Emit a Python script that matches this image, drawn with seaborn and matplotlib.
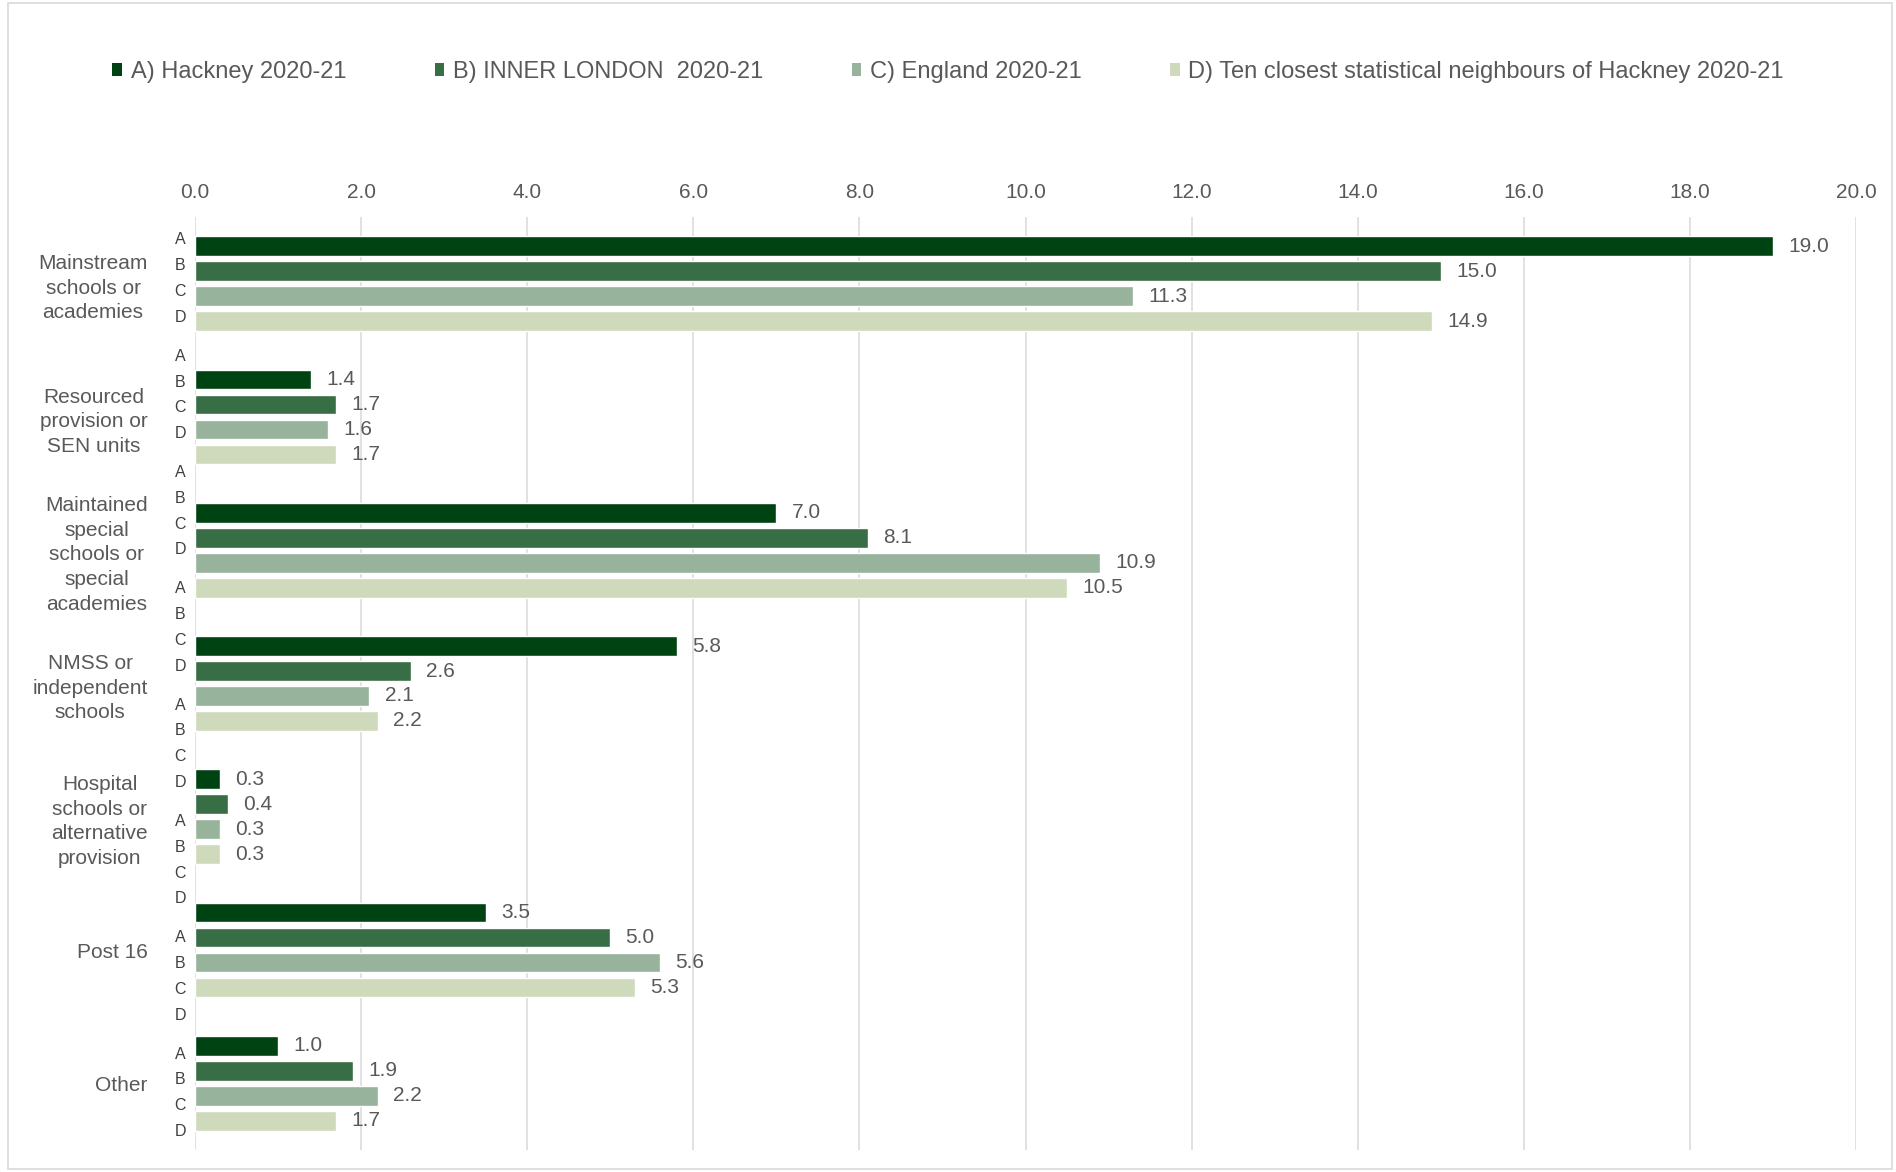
import numpy as np
import pandas as pd
import matplotlib
matplotlib.use("Agg")
import matplotlib.pyplot as plt
import matplotlib.transforms as mtransforms
from matplotlib.patches import Rectangle, Patch
import seaborn as sns

# ---------------- data ----------------
categories = [
    "Mainstream\nschools or\nacademies",
    "Resourced\nprovision or\nSEN units",
    "Maintained\nspecial\nschools or\nspecial\nacademies",
    "NMSS or\nindependent\nschools",
    "Hospital\nschools or\nalternative\nprovision",
    "Post 16",
    "Other",
]
series_names = [
    "A) Hackney 2020-21",
    "B) INNER LONDON  2020-21",
    "C) England 2020-21",
    "D) Ten closest statistical neighbours of Hackney 2020-21",
]
hackney = [19.0, 1.4, 7.0, 5.8, 0.3, 3.5, 1.0]
inner_london = [15.0, 1.7, 8.1, 2.6, 0.4, 5.0, 1.9]
england = [11.3, 1.6, 10.9, 2.1, 0.3, 5.6, 2.2]
neighbours = [14.9, 1.7, 10.5, 2.2, 0.3, 5.3, 1.7]
x_ticks = [0, 2, 4, 6, 8, 10, 12, 14, 16, 18, 20]
side_letters = ["A", "B", "C", "D"]

colors = ["#004313", "#386e46", "#97b39c", "#cfd9bb"]

# ---------------- build long-form table ----------------
rows = []
for name, vals in zip(series_names, [hackney, inner_london, england, neighbours]):
    for cat, v in zip(categories, vals):
        rows.append({"category": cat, "series": name, "value": v})
df = pd.DataFrame(rows)

sns.set_theme(style="white")
plt.rcParams["font.family"] = ["Liberation Sans", "DejaVu Sans"]

W, H = 1896, 1172
fig = plt.figure(figsize=(W / 100, H / 100), dpi=100)
ax = fig.add_axes([195 / W, 1 - 1150 / H, 1661 / W, 933 / H])

sns.barplot(
    data=df, y="category", x="value", hue="series",
    order=categories, hue_order=series_names,
    palette=colors, saturation=1, orient="h",
    width=0.75, gap=0.21, errorbar=None, ax=ax, legend=False,
)

ax.set_xlim(0, 20)
ax.set_ylim(6.5, -0.5)
ax.xaxis.tick_top()
ax.set_xticks(x_ticks)
ax.set_xticklabels([f"{t:.1f}" for t in x_ticks])
ax.tick_params(axis="x", length=0, pad=11, labelsize=15, labelcolor="#595959")
ax.set_yticks(range(len(categories)))
ax.set_yticklabels(categories, multialignment="center", linespacing=1.37)
ax.tick_params(axis="y", length=0, pad=34, labelsize=15, labelcolor="#595959")
ax.set_xlabel("")
ax.set_ylabel("")
for s in ax.spines.values():
    s.set_visible(False)
ax.grid(axis="x", color="#d9d9d9", linewidth=1.1)
ax.grid(axis="y", visible=False)
ax.set_axisbelow(True)

for cont in ax.containers:
    ax.bar_label(cont, fmt="%.1f", padding=11, fontsize=15, color="#595959")

# side letters (secondary category marks)
trans = mtransforms.blended_transform_factory(ax.transAxes, ax.transData)
start, period, step = -0.3275, 0.8725, 0.1935
for k in range(8):
    for j, L in enumerate(side_letters):
        ax.text(-0.009, start + period * k + step * j, L, transform=trans,
                ha="center", va="center", fontsize=11.5, color="#404040",
                clip_on=False)

# legend
handles = [Patch(facecolor=c, edgecolor="none") for c in colors]
fig.legend(
    handles, series_names, loc="center", bbox_to_anchor=(0.5, 1 - 72 / H),
    ncol=4, frameon=False, fontsize=17, labelcolor="#595959",
    handlelength=0.42, handleheight=0.42, handletextpad=0.35,
    columnspacing=3.75, borderaxespad=0,
)

# outer border
fig.patches.append(Rectangle((8 / W, 3 / H), 1884 / W, 1166 / H,
                             transform=fig.transFigure, fill=False,
                             edgecolor="#d9d9d9", linewidth=1.2))

fig.savefig("out.png", dpi=100, facecolor="white")
